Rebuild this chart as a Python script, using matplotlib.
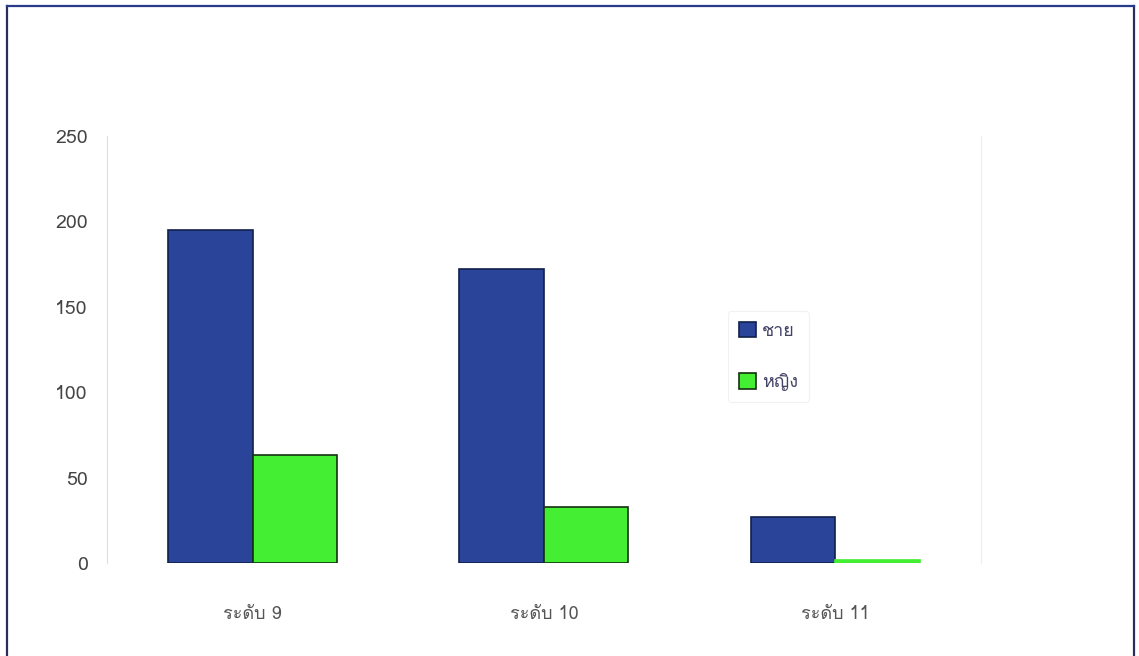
import numpy as np
import matplotlib
matplotlib.use('Agg')
import matplotlib.pyplot as plt
from matplotlib import font_manager
from matplotlib.ft2font import FT2Font
from matplotlib.lines import Line2D

## -- Data
categories = ["ระดับ 9", "ระดับ 10", "ระดับ 11"]
series_names = ["ชาย", "หญิง"]
male = [195, 172, 27]
female = [63, 33, 2]
yticks = [0, 50, 100, 150, 200, 250]

# find an installed font that has Thai glyphs
thai_font = None
for f in font_manager.fontManager.ttflist:
	try:
		cmap = FT2Font(f.fname).get_charmap()
	except Exception:
		continue
	if 0x0E0A in cmap and 0x0E0D in cmap:
		thai_font = f.name
		break
families = ([thai_font] if thai_font else []) + ['DejaVu Sans']
plt.rcParams['font.family'] = families

fig = plt.figure(figsize=(11.39, 6.56), dpi=100)
ax = fig.add_axes([0.0939, 0.1418, 0.7674, 0.6509])

x = np.arange(len(categories))
w = 0.29
ax.bar(x - w / 2, male, w, color='#2a4499', edgecolor='#10204a', linewidth=1.2, label=series_names[0])
fbars = ax.bar(x + w / 2, female, w, color='#44ee33', edgecolor='#153010', linewidth=1.2, label=series_names[1])
# the tiny bar shows as a plain green strip
fbars.patches[-1].set_edgecolor('#44ee33')

ax.set_xlim(-0.5, 2.5)
ax.set_ylim(0, 250)
ax.set_yticks(yticks)
ax.set_xticks(x)
ax.set_xticklabels(categories)
ax.tick_params(axis='both', length=0, labelsize=14, colors='#444444')
ax.tick_params(axis='y', pad=14)
ax.tick_params(axis='x', pad=30, labelsize=13, colors='#555555')
for s in ['top', 'bottom']:
	ax.spines[s].set_visible(False)
ax.spines['left'].set_color('#dddddd')
ax.spines['right'].set_color('#eeeeee')

leg = ax.legend(loc='upper left', bbox_to_anchor=(0.70, 0.612), fontsize=13, frameon=True,
		handlelength=0.95, handleheight=0.95, labelspacing=1.85, handletextpad=0.35, borderpad=0.6)
leg.get_frame().set_edgecolor('#eeeeee')
leg.get_frame().set_linewidth(0.8)
for t in leg.get_texts():
	t.set_color('#444466')

# outer frame of the scan (no bottom edge)
fc = '#2a2f5a'
fig.add_artist(Line2D([0.006, 0.006], [0.0, 0.991], transform=fig.transFigure, color=fc, lw=1.6))
fig.add_artist(Line2D([0.996, 0.996], [0.0, 0.991], transform=fig.transFigure, color=fc, lw=1.6))
fig.add_artist(Line2D([0.006, 0.996], [0.991, 0.991], transform=fig.transFigure, color='#2a3a8a', lw=1.6))

plt.savefig('out.png', dpi=100)
